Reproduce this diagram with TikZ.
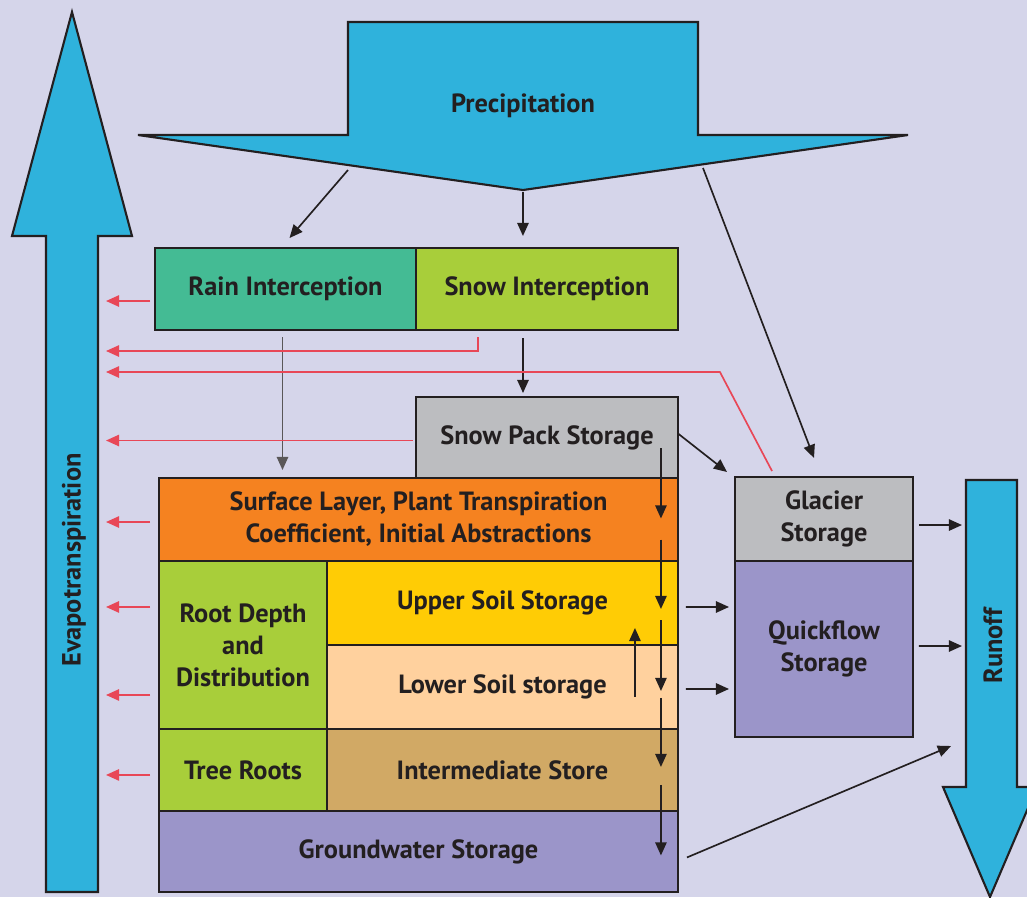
\documentclass[tikz,border=0pt]{standalone}
\usepackage{fontspec}
\setmainfont{PT Sans}
\usetikzlibrary{positioning,calc,arrows.meta}
\definecolor{Ink}{HTML}{231F20}
\definecolor{Sky}{HTML}{2FB2DC}
\definecolor{Lavender}{HTML}{D5D5EA}
\definecolor{Teal}{HTML}{44BB94}
\definecolor{Lime}{HTML}{A8CE3A}
\definecolor{Stone}{HTML}{BCBDC0}
\definecolor{Orange}{HTML}{F58220}
\definecolor{Gold}{HTML}{FFCC05}
\definecolor{Peach}{HTML}{FFD19E}
\definecolor{Tan}{HTML}{D1A965}
\definecolor{Violet}{HTML}{9B95C9}
\definecolor{Rose}{HTML}{E84757}
\tikzset{
  store box/.style={draw=Ink,line width=1.2pt,align=center,inner sep=2pt,
    outer sep=0pt,font=\fontsize{15}{18.2}\selectfont\bfseries,text=Ink},
  flow label/.style={font=\fontsize{15}{18.2}\selectfont\bfseries,text=Ink},
  big arrow/.style={draw=Ink,line width=1.2pt,fill=Sky,line join=miter},
  flow arrow/.style={-{Triangle[length=7.5pt,width=6.5pt]},line width=.95pt,draw=Ink},
  gray arrow/.style={flow arrow,draw=Ink!75},
  evap arrow/.style={-{Triangle[length=7.5pt,width=6.5pt]},line width=.95pt,draw=Rose}
}

\begin{document}
\begin{tikzpicture}[x=0.02cm,y=-0.02cm]
  \useasboundingbox (0,0) rectangle (1027,897);
  \fill[Lavender] (0,0) rectangle (1027,897);
  \clip (0,0) rectangle (1027,897);

  % big arrows
  \draw[big arrow] (348,22) -- (698,22) -- (698,135) -- (908,135) -- (523,190)
    -- (138,135) -- (348,135) -- cycle;
  \draw[big arrow] (46,892) -- (46,236) -- (12,236) -- (72,12) -- (132,236)
    -- (98,236) -- (98,892) -- cycle;
  \draw[big arrow] (966,480) -- (1017,480) -- (1017,787) -- (1037,787)
    -- (990,897) -- (943,787) -- (966,787) -- cycle;
  \node[flow label] (precip) at (523,106) {Precipitation};
  \node[flow label,rotate=90] (evap) at (74,560) {Evapotranspiration};
  \node[flow label,rotate=90] (runoff) at (993,646) {Runoff};
  \coordinate (pleft) at (348,170);
  \coordinate (ptip) at (523,192);
  \coordinate (pright) at (703,168);
  \coordinate (evap east) at (106,560);

  % storages
  \node[store box,fill=Teal,minimum width=5.22cm,minimum height=1.64cm] (rain) at (285.5,289) {Rain Interception};
  \node[store box,fill=Lime,minimum width=5.24cm,minimum height=1.64cm,right=0pt of rain] (snowint) {Snow Interception};
  \node[store box,fill=Stone,minimum width=5.24cm,minimum height=1.62cm] (snowpack) at (547,437.5) {Snow Pack Storage};
  \node[store box,fill=Orange,minimum width=10.38cm,minimum height=1.66cm] (surface) at (418.5,519.5) {Surface Layer, Plant Transpiration\\Coefficient, Initial Abstractions};
  \node[store box,fill=Lime,minimum width=3.36cm,minimum height=3.36cm,anchor=north west] (rootdepth) at (surface.south west) {Root Depth\\and\\Distribution};
  \node[store box,fill=Gold,minimum width=7.02cm,minimum height=1.68cm,anchor=north west] (upper) at (rootdepth.north east) {Upper Soil Storage};
  \node[store box,fill=Peach,minimum width=7.02cm,minimum height=1.68cm,below=0pt of upper] (lower) {Lower Soil storage};
  \node[store box,fill=Lime,minimum width=3.36cm,minimum height=1.64cm,below=0pt of rootdepth] (treeroots) {Tree Roots};
  \node[store box,fill=Tan,minimum width=7.02cm,minimum height=1.64cm,below=0pt of lower] (intermediate) {Intermediate Store};
  \node[store box,fill=Violet,minimum width=10.38cm,minimum height=1.62cm,anchor=north west] (groundwater) at (treeroots.south west) {Groundwater Storage};
  \node[store box,fill=Stone,minimum width=3.56cm,minimum height=1.68cm] (glacier) at (824,519) {Glacier\\Storage};
  \node[store box,fill=Violet,minimum width=3.56cm,minimum height=3.52cm,below=0pt of glacier] (quickflow) {Quickflow\\Storage};

  % water flows
  \draw[flow arrow] (pleft) -- ($(rain.north)+(4,-10)$);
  \draw[flow arrow] (ptip) -- ($(snowint.north)+(-24,-12)$);
  \draw[flow arrow] (pright) -- ($(glacier.north)+(-10,-19)$);
  \draw[flow arrow] ($(snowint.south)+(-24,8)$) -- ($(snowpack.north)+(-24,-4)$);
  \draw[gray arrow] ($(rain.south)+(-3,7)$) -- ($(surface.north)+(-136,-8)$);
  \draw[flow arrow] ($(snowpack.east)+(0,-4)$) -- ($(glacier.north west)+(-8,-5)$);
  \draw[flow arrow] ($(snowpack.south east)+(-17,-30)$) -- ($(surface.east)+(-17,-1)$);
  \draw[flow arrow] ($(surface.east)+(-17,20)$) -- ($(upper.east)+(-17,6)$);
  \draw[flow arrow] ($(upper.east)+(-17,17)$) -- ($(lower.east)+(-17,4)$);
  \draw[flow arrow] ($(lower.east)+(-17,11)$) -- ($(intermediate.east)+(-17,-3)$);
  \draw[flow arrow] ($(intermediate.east)+(-17,15)$) -- ($(groundwater.east)+(-17,4)$);
  \draw[flow arrow] ($(lower.east)+(-43,10)$) -- ($(upper.east)+(-43,25)$);
  \draw[flow arrow] ($(upper.east)+(8,4)$) -- ($(quickflow.west)+(-6,-42)$);
  \draw[flow arrow] ($(lower.east)+(8,2)$) -- ($(quickflow.west)+(-6,40)$);
  \draw[flow arrow] ($(glacier.east)+(6,6)$) -- ($(runoff)+(-31,-121)$);
  \draw[flow arrow] ($(quickflow.east)+(6,-3)$) -- ($(runoff)+(-31,0)$);
  \draw[flow arrow] ($(groundwater.east)+(9,6)$) -- ($(runoff)+(-42,100)$);

  % evaporation losses
  \draw[evap arrow] ($(rain.west)+(-5,12)$) coordinate (e1) -- (e1 -| evap east);
  \draw[evap arrow] ($(snowint.south)+(-69,7)$) -- ++(0,14) coordinate (e2) -- (e2 -| evap east);
  \draw[evap arrow] ($(glacier.north west)+(37,-6)$) -- ($(snowint.south east)+(42,42)$) coordinate (e3) -- (e3 -| evap east);
  \draw[evap arrow] ($(snowpack.west)+(-3,3)$) coordinate (e4) -- (e4 -| evap east);
  \draw[evap arrow] ($(surface.west)+(-9,2.5)$) coordinate (e5) -- (e5 -| evap east);
  \draw[evap arrow] ($(rootdepth.west)+(-9,-38)$) coordinate (e6) -- (e6 -| evap east);
  \draw[evap arrow] ($(rootdepth.west)+(-9,50)$) coordinate (e7) -- (e7 -| evap east);
  \draw[evap arrow] ($(treeroots.west)+(-9,5)$) coordinate (e8) -- (e8 -| evap east);
\end{tikzpicture}
\end{document}
